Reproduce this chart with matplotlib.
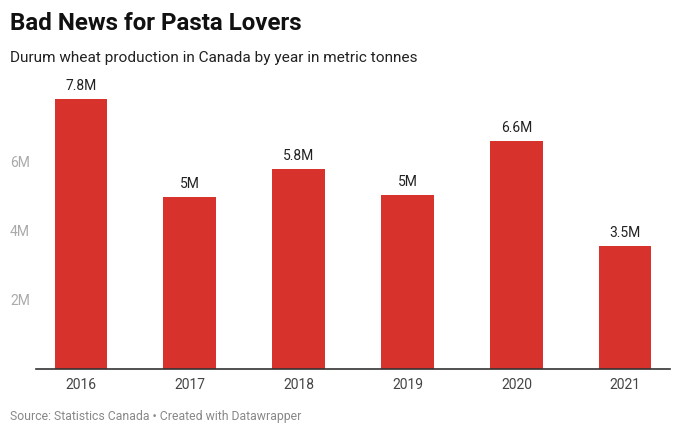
import matplotlib.pyplot as plt
import matplotlib.transforms as mtransforms

years = ["2016", "2017", "2018", "2019", "2020", "2021"]
production = [7.8, 4.97, 5.8, 5.03, 6.6, 3.55]  # millions of tonnes
value_labels = ["7.8M", "5M", "5.8M", "5M", "6.6M", "3.5M"]
y_ticks = [2, 4, 6]
y_tick_labels = ["2M", "4M", "6M"]

plt.rcParams['font.family'] = ['Roboto', 'DejaVu Sans']

fig = plt.figure(figsize=(6.8, 4.39), dpi=100)
ax = fig.add_axes([36 / 680, 69 / 439, 634 / 680, 280 / 439])

x = range(len(years))
ax.bar(x, production, width=0.48, color="#d8322c")
for i, (v, lab) in enumerate(zip(production, value_labels)):
    ax.annotate(lab, (i, v), xytext=(0, 5), textcoords="offset points",
                ha="center", va="bottom", fontsize=10, color="#222222")

ax.set_xlim(-0.41, 5.41)
ax.set_ylim(0, 8.1)
ax.set_xticks(list(x))
ax.set_xticklabels(years, fontsize=10, color="#444444")
ax.tick_params(axis="x", length=0, pad=6)
ax.set_yticks([])

# y labels sit at the left edge of the figure
trans = mtransforms.blended_transform_factory(fig.transFigure, ax.transData)
for t, lab in zip(y_ticks, y_tick_labels):
    ax.text(10 / 680, t, lab, transform=trans, fontsize=10,
            color="#aaaaaa", va="center", ha="left")

for s in ["top", "right", "left"]:
    ax.spines[s].set_visible(False)
ax.spines["bottom"].set_color("#333333")
ax.spines["bottom"].set_linewidth(1.2)

fig.text(10 / 680, 1 - 24 / 439, "Bad News for Pasta Lovers", fontsize=17.4,
         fontweight="bold", va="center", ha="left", color="#111111")
fig.text(10 / 680, 1 - 58 / 439, "Durum wheat production in Canada by year in metric tonnes",
         fontsize=11.1, va="center", ha="left", color="#222222")
fig.text(10 / 680, 1 - 417 / 439, "Source: Statistics Canada \u2022 Created with Datawrapper",
         fontsize=8.8, va="center", ha="left", color="#888888")

fig.savefig("out.png", dpi=100)
